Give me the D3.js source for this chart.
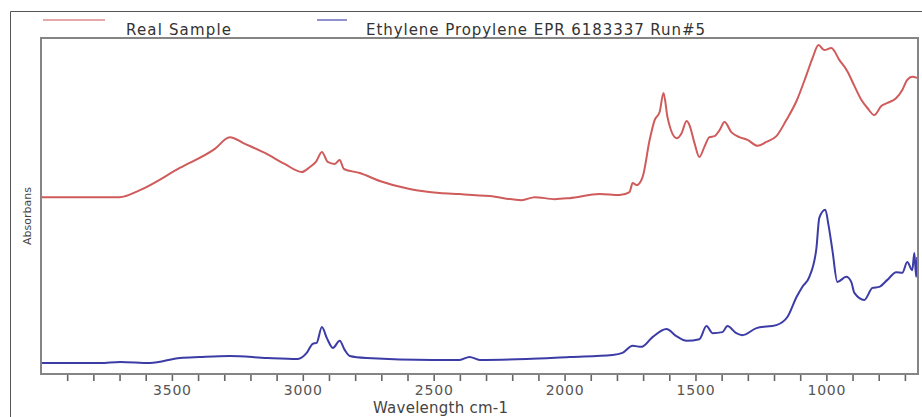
<!DOCTYPE html>
<html>
<head>
<meta charset="utf-8">
<script src="https://cdn.jsdelivr.net/npm/d3@7"></script>
<style>
  body { margin: 0; background: #fff; }
  svg { display: block; font-family: "DejaVu Sans", sans-serif; }
</style>
</head>
<body>
<script>
'use strict'

// wavenumbers (cm-1) and absorbance
const redWave = [4000, 3700, 3622, 3470, 3336, 3279, 3221, 3145, 3069, 3004, 2973, 2950, 2927, 2905, 2878, 2859, 2843, 2782, 2706, 2592, 2477, 2401, 2286, 2164, 2114, 2038, 1981, 1866, 1790, 1752, 1740, 1725, 1702, 1675, 1656, 1637, 1622, 1607, 1572, 1553, 1534, 1523, 1504, 1485, 1466, 1447, 1427, 1408, 1389, 1363, 1332, 1301, 1263, 1229, 1191, 1153, 1114, 1076, 1053, 1030, 1008, 981, 950, 920, 893, 866, 843, 817, 790, 767, 733, 710, 691, 672, 653]
const redAbs = [0.525, 0.525, 0.546, 0.612, 0.669, 0.704, 0.684, 0.657, 0.624, 0.600, 0.615, 0.630, 0.660, 0.630, 0.624, 0.636, 0.609, 0.597, 0.573, 0.549, 0.537, 0.534, 0.528, 0.516, 0.525, 0.519, 0.522, 0.534, 0.531, 0.540, 0.567, 0.561, 0.585, 0.696, 0.755, 0.779, 0.836, 0.764, 0.701, 0.716, 0.752, 0.740, 0.687, 0.645, 0.675, 0.704, 0.707, 0.725, 0.749, 0.719, 0.704, 0.696, 0.678, 0.690, 0.707, 0.755, 0.812, 0.890, 0.940, 0.979, 0.964, 0.970, 0.934, 0.901, 0.857, 0.815, 0.791, 0.770, 0.797, 0.806, 0.821, 0.845, 0.875, 0.884, 0.881]

const blueWave = [4000, 3901, 3775, 3698, 3584, 3469, 3393, 3279, 3137, 3019, 2985, 2962, 2947, 2927, 2908, 2885, 2859, 2840, 2821, 2756, 2504, 2401, 2363, 2324, 2145, 1981, 1817, 1779, 1740, 1706, 1664, 1611, 1573, 1534, 1485, 1458, 1435, 1397, 1378, 1344, 1321, 1267, 1191, 1149, 1114, 1092, 1065, 1038, 1027, 1004, 992, 977, 958, 924, 905, 893, 855, 824, 798, 767, 733, 710, 691, 672, 664, 657, 653]
const blueAbs = [0.030, 0.030, 0.030, 0.033, 0.030, 0.045, 0.048, 0.051, 0.045, 0.042, 0.060, 0.087, 0.090, 0.137, 0.104, 0.075, 0.096, 0.069, 0.051, 0.045, 0.039, 0.039, 0.048, 0.039, 0.042, 0.048, 0.054, 0.060, 0.081, 0.078, 0.107, 0.131, 0.110, 0.096, 0.101, 0.140, 0.119, 0.122, 0.140, 0.119, 0.113, 0.134, 0.143, 0.167, 0.227, 0.257, 0.287, 0.373, 0.463, 0.487, 0.442, 0.367, 0.272, 0.287, 0.272, 0.239, 0.218, 0.254, 0.257, 0.278, 0.301, 0.299, 0.331, 0.307, 0.358, 0.287, 0.346]

const seriesNames = ['Real Sample', 'Ethylene Propylene EPR 6183337 Run#5']
const seriesColors = ['#cf5b5b', '#3c3ca6']
const tickWaves = d3.range(3900, 650, -100)
const labelWaves = [3500, 3000, 2500, 2000, 1500, 1000]

const W = 922, H = 417
const plot = {left: 41, top: 38, right: 918, bottom: 374}

const svg = d3.select('body').append('svg')
  .attr('width', W)
  .attr('height', H)

// outer frame (top and left edges visible)
svg.append('path')
  .attr('d', 'M10.5,417 V11.5 H922')
  .attr('fill', 'none')
  .attr('stroke', '#555')
  .attr('stroke-width', 1)

const x = d3.scaleLinear().domain([4000, 650]).range([plot.left, plot.right])
const y = d3.scaleLinear().domain([0, 1]).range([373, plot.top])

const line = d3.line()
  .x(d => x(d[0]))
  .y(d => y(d[1]))
  .curve(d3.curveMonotoneX)

const series = [
  d3.zip(redWave, redAbs),
  d3.zip(blueWave, blueAbs)
]

svg.append('g')
  .selectAll('path')
  .data(series)
  .enter()
  .append('path')
  .attr('d', d => line(d))
  .attr('fill', 'none')
  .attr('stroke', (d, i) => seriesColors[i])
  .attr('stroke-width', 2)
  .attr('stroke-linejoin', 'round')

// x axis ticks
const axis = d3.axisBottom(x)
  .tickValues(tickWaves)
  .tickSize(7)
  .tickPadding(4)
  .tickFormat(d => labelWaves.includes(d) ? d : '')

const gx = svg.append('g')
  .attr('transform', 'translate(0,' + plot.bottom + ')')
  .call(axis)
gx.select('.domain').remove()
gx.selectAll('.tick line').attr('stroke', '#666').attr('stroke-width', 1.6)
gx.selectAll('.tick text')
  .attr('fill', '#555')
  .attr('font-size', 14)
  .attr('letter-spacing', 0.8)
  .attr('font-family', '"DejaVu Sans", sans-serif')

// plot frame
svg.append('rect')
  .attr('x', plot.left)
  .attr('y', plot.top)
  .attr('width', plot.right - plot.left)
  .attr('height', plot.bottom - plot.top)
  .attr('fill', 'none')
  .attr('stroke', '#858585')
  .attr('stroke-width', 2)

// legend
const legendPos = [{x0: 43, x1: 105, tx: 126, tl: 105}, {x0: 317, x1: 347, tx: 366, tl: 339}]
const legend = svg.append('g')
  .selectAll('g')
  .data(seriesNames)
  .enter()
  .append('g')
legend.append('line')
  .attr('x1', (d, i) => legendPos[i].x0)
  .attr('x2', (d, i) => legendPos[i].x1)
  .attr('y1', 20)
  .attr('y2', 20)
  .attr('stroke', (d, i) => seriesColors[i])
  .attr('stroke-opacity', 0.7)
  .attr('stroke-width', 1.6)
legend.append('text')
  .attr('x', (d, i) => legendPos[i].tx)
  .attr('y', 35)
  .attr('font-size', 15)
  .attr('fill', '#333')
  .attr('textLength', (d, i) => legendPos[i].tl)
  .attr('lengthAdjust', 'spacing')
  .text(d => d)

// axis titles
svg.append('text')
  .attr('x', 373)
  .attr('y', 413)
  .attr('font-size', 15)
  .attr('fill', '#444')
  .attr('textLength', 135)
  .attr('lengthAdjust', 'spacing')
  .text('Wavelength cm-1')

svg.append('text')
  .attr('transform', 'translate(31,216) rotate(-90)')
  .attr('text-anchor', 'middle')
  .attr('font-size', 11)
  .attr('fill', '#444')
  .text('Absorbans')
</script>
</body>
</html>
